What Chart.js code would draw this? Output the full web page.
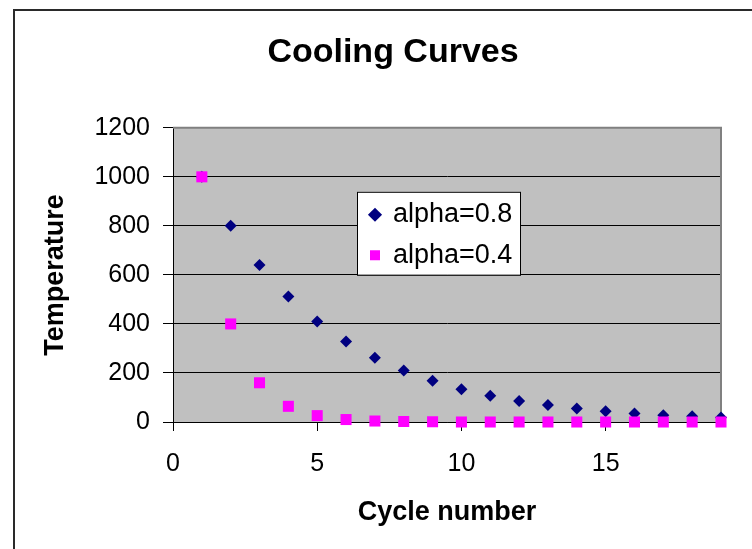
<!DOCTYPE html>
<html>
<head>
<meta charset="utf-8">
<title>Cooling Curves</title>
<script src="https://cdn.jsdelivr.net/npm/chart.js@4.4.1/dist/chart.umd.min.js"></script>
<style>
  html, body { margin: 0; padding: 0; background: #ffffff; }
  #wrap { width: 752px; height: 549px; position: relative; }
</style>
</head>
<body>
<div id="wrap"><canvas id="chart"></canvas></div>
<script>
// Cycle numbers and temperatures for the two cooling factors
const cycles = [1, 2, 3, 4, 5, 6, 7, 8, 9, 10, 11, 12, 13, 14, 15, 16, 17, 18, 19];
const tempAlpha08 = [1000, 800, 640, 512, 410, 328, 262, 210, 168, 134, 107, 86, 69, 55, 44, 35, 28, 23, 18];
const tempAlpha04 = [1000, 400, 160, 64, 26, 10, 4, 2, 1, 0, 0, 0, 0, 0, 0, 0, 0, 0, 0];
const seriesNames = ['alpha=0.8', 'alpha=0.4'];
const xTicks = [0, 5, 10, 15];
const yTicks = [0, 200, 400, 600, 800, 1000, 1200];

const FONT = "'Liberation Sans', Arial, Helvetica, sans-serif";

function toPoints(xs, ys) {
  return xs.map((x, i) => ({ x: x, y: ys[i] }));
}

// Grey plot background, outer frame, legend box and plot border
const excelLook = {
  id: 'excelLook',
  beforeLayout(chart) {
    if (chart.legend) {
      const lg = chart.legend;
      lg._layers = () => [{ z: 1, draw: (ca) => lg.draw(ca) }];
    }
  },
  afterLayout(chart) {
    const a = chart.chartArea;
    if (chart.legend) {
      chart.legend.left = a.left + 184;
      chart.legend.top = a.top + 60;
    }
    if (chart.titleBlock) {
      // centre the title over the framed area
      chart.titleBlock.left = 34;
      chart.titleBlock.right = chart.width;
    }
  },
  beforeDraw(chart) {
    const ctx = chart.ctx;
    const a = chart.chartArea;
    ctx.save();
    ctx.fillStyle = '#ffffff';
    ctx.fillRect(0, 0, chart.width, chart.height);
    ctx.strokeStyle = '#2a2a2a';
    ctx.lineWidth = 2;
    ctx.strokeRect(14, 10, chart.width + 20, chart.height + 20);
    ctx.fillStyle = '#c0c0c0';
    ctx.fillRect(a.left, a.top, a.right - a.left, a.bottom - a.top);
    ctx.restore();
  },
  beforeDatasetsDraw(chart) {
    const ctx = chart.ctx;
    const a = chart.chartArea;
    ctx.save();
    ctx.strokeStyle = '#808080';
    ctx.lineWidth = 2;
    ctx.beginPath();
    ctx.moveTo(a.left, a.top);
    ctx.lineTo(a.right, a.top);
    ctx.lineTo(a.right, a.bottom);
    ctx.stroke();
    ctx.restore();
  },
  afterDatasetsDraw(chart) {
    const lg = chart.legend;
    if (!lg) return;
    const ctx = chart.ctx;
    ctx.save();
    ctx.fillStyle = '#ffffff';
    ctx.fillRect(lg.left, lg.top + 4, 163, 83);
    ctx.strokeStyle = '#000000';
    ctx.lineWidth = 1;
    ctx.strokeRect(lg.left + 0.5, lg.top + 4.5, 163, 83);
    ctx.restore();
  }
};

const plainNumber = (v) => String(v);

new Chart(document.getElementById('chart'), {
  type: 'scatter',
  data: {
    datasets: [
      {
        label: seriesNames[0],
        data: toPoints(cycles, tempAlpha08),
        pointStyle: 'rectRot',
        pointRadius: 6,
        backgroundColor: '#000080',
        borderColor: '#000080',
        borderWidth: 0,
        clip: false,
        order: 1
      },
      {
        label: seriesNames[1],
        data: toPoints(cycles, tempAlpha04),
        pointStyle: 'rect',
        pointRadius: 7.8,
        backgroundColor: '#ff00ff',
        borderColor: '#ff00ff',
        borderWidth: 0,
        clip: false,
        order: 0
      }
    ]
  },
  options: {
    responsive: true,
    maintainAspectRatio: false,
    animation: false,
    events: [],
    layout: { padding: { left: 0, right: 31, top: 0, bottom: 0 } },
    plugins: {
      tooltip: { enabled: false },
      title: {
        display: true,
        text: 'Cooling Curves',
        color: '#000000',
        font: { family: FONT, size: 34, weight: 'bold' },
        padding: { top: 32, bottom: 55 }
      },
      legend: {
        display: true,
        position: 'chartArea',
        align: 'start',
        labels: {
          usePointStyle: true,
          boxWidth: 9,
          boxHeight: 10,
          padding: 13.5,
          color: '#000000',
          font: { family: FONT, size: 27 },
          sort: (a, b) => a.datasetIndex - b.datasetIndex
        }
      }
    },
    scales: {
      x: {
        type: 'linear',
        min: 0,
        max: 19,
        afterFit: (s) => { s.height = 127; },
        afterBuildTicks: (s) => { s.ticks = xTicks.map((v) => ({ value: v })); },
        ticks: {
          color: '#000000',
          font: { family: FONT, size: 25 },
          padding: 18,
          maxRotation: 0,
          autoSkip: false,
          callback: plainNumber
        },
        grid: {
          drawOnChartArea: false,
          drawTicks: true,
          tickLength: 9,
          tickColor: '#000000'
        },
        border: { display: true, color: '#000000', width: 1 },
        title: {
          display: true,
          text: 'Cycle number',
          color: '#000000',
          font: { family: FONT, size: 27, weight: 'bold' },
          padding: { top: 0, bottom: 20 }
        }
      },
      y: {
        type: 'linear',
        min: 0,
        max: 1200,
        afterFit: (s) => { s.width = 173; },
        afterBuildTicks: (s) => { s.ticks = yTicks.map((v) => ({ value: v })); },
        ticks: {
          color: '#000000',
          font: { family: FONT, size: 25 },
          padding: 13,
          callback: plainNumber
        },
        grid: {
          color: (c) => (c.tick && c.tick.value === 1200) ? 'rgba(0,0,0,0)' : '#000000',
          lineWidth: 1,
          drawTicks: true,
          tickLength: 10,
          tickColor: '#000000'
        },
        border: { display: true, color: '#000000', width: 1 },
        title: {
          display: true,
          text: 'Temperature',
          color: '#000000',
          font: { family: FONT, size: 27, weight: 'bold' },
          padding: { top: 39, bottom: 0 }
        }
      }
    }
  },
  plugins: [excelLook]
});
</script>
</body>
</html>
